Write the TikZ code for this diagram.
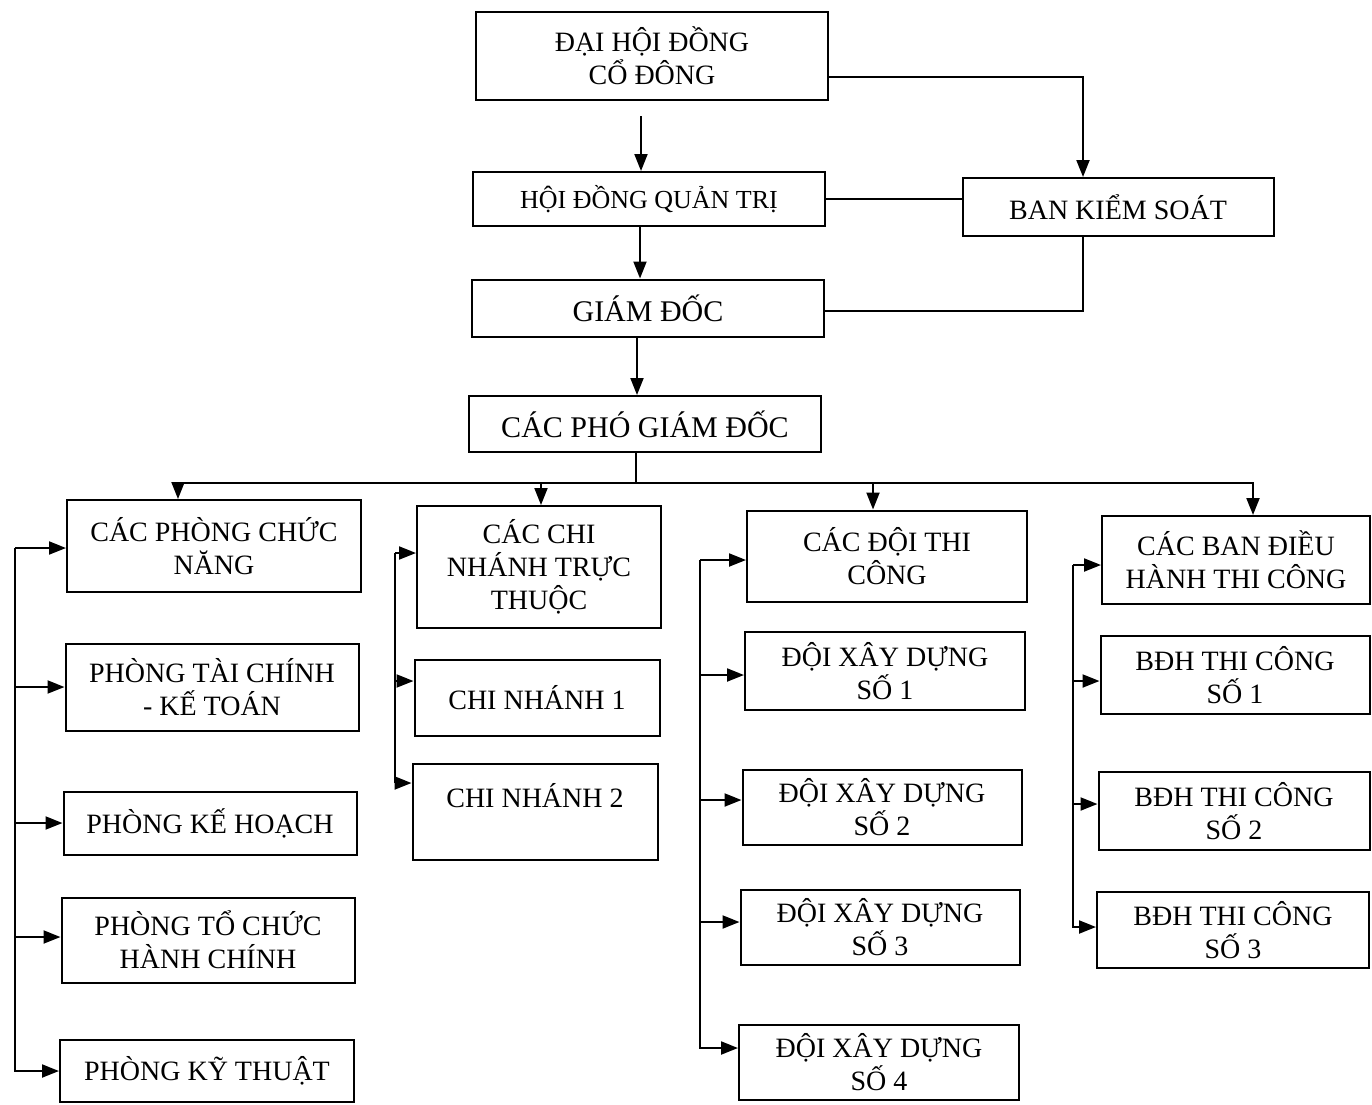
\documentclass[tikz,border=0pt]{standalone}
\usepackage{fontspec}
\setmainfont{Liberation Serif}
\usetikzlibrary{arrows.meta}

\tikzset{
    box/.style={draw, line width=2pt, align=center, inner sep=0pt,
                font=\fontsize{28}{33}\selectfont},
    arr/.style={-{Triangle[length=17pt,width=13pt]}, line width=2pt},
    link/.style={line width=2pt}
}

\begin{document}
\begin{tikzpicture}[x=1pt, y=-1pt]
        \useasboundingbox [fill=white] (0,0) rectangle (1372,1104);

        % top of the chart
        \node (dhdcd) [box, minimum width=352pt, minimum height=88pt] at (652,56) {ĐẠI HỘI ĐỒNG\\CỔ ĐÔNG};
        \node (hdqt) [box, minimum width=352pt, minimum height=54pt, font=\fontsize{26}{30}\selectfont] at (649,199) {HỘI ĐỒNG QUẢN TRỊ};
        \node (bks) [box, minimum width=311pt, minimum height=58pt] at (1118,207) {BAN KIỂM SOÁT};
        \node (gd) [box, minimum width=352pt, minimum height=57pt, font=\fontsize{30}{33}\selectfont] at (648,308) {GIÁM ĐỐC};
        \node (pgd) [box, minimum width=352pt, minimum height=56pt, font=\fontsize{30}{33}\selectfont] at (645,424) {CÁC PHÓ GIÁM ĐỐC};

        % second level
        \node (pcn) [box, minimum width=294pt, minimum height=92pt] at (214,546) {CÁC PHÒNG CHỨC\\NĂNG};
        \node (cn) [box, minimum width=244pt, minimum height=122pt] at (539,567) {CÁC CHI\\NHÁNH TRỰC\\THUỘC};
        \node (dtc) [box, minimum width=280pt, minimum height=91pt] at (887,556) {CÁC ĐỘI THI\\CÔNG};
        \node (bdh) [box, minimum width=268pt, minimum height=88pt] at (1236,560) {CÁC BAN ĐIỀU\\HÀNH THI CÔNG};

        % phong ban
        \node (tckt) [box, minimum width=293pt, minimum height=87pt] at (212,687) {PHÒNG TÀI CHÍNH\\- KẾ TOÁN};
        \node (kh) [box, minimum width=293pt, minimum height=63pt] at (210,823) {PHÒNG KẾ HOẠCH};
        \node (tchc) [box, minimum width=293pt, minimum height=85pt] at (208,940) {PHÒNG TỔ CHỨC\\HÀNH CHÍNH};
        \node (kt) [box, minimum width=294pt, minimum height=62pt] at (207,1071) {PHÒNG KỸ THUẬT};

        % chi nhanh
        \node (cn1) [box, minimum width=245pt, minimum height=76pt] at (537,698) {CHI NHÁNH 1};
        \node (cn2) [box, minimum width=245pt, minimum height=96pt] at (535,812) {CHI NHÁNH 2\\\mbox{}};

        % doi xay dung
        \node (dxd1) [box, minimum width=280pt, minimum height=78pt] at (885,671) {ĐỘI XÂY DỰNG\\SỐ 1};
        \node (dxd2) [box, minimum width=279pt, minimum height=75pt] at (882,807) {ĐỘI XÂY DỰNG\\SỐ 2};
        \node (dxd3) [box, minimum width=279pt, minimum height=75pt] at (880,927) {ĐỘI XÂY DỰNG\\SỐ 3};
        \node (dxd4) [box, minimum width=280pt, minimum height=75pt] at (879,1062) {ĐỘI XÂY DỰNG\\SỐ 4};

        % ban dieu hanh
        \node (bdh1) [box, minimum width=269pt, minimum height=78pt] at (1235,675) {BĐH THI CÔNG\\SỐ 1};
        \node (bdh2) [box, minimum width=271pt, minimum height=78pt] at (1234,811) {BĐH THI CÔNG\\SỐ 2};
        \node (bdh3) [box, minimum width=272pt, minimum height=76pt] at (1233,930) {BĐH THI CÔNG\\SỐ 3};

        \coordinate (a1) at ([xshift=-8pt]hdqt.north);
        \coordinate (a2) at ([xshift=-8pt]gd.north);
        \coordinate (a3) at ([xshift=-8pt]pgd.north);
        \coordinate (bus) at (636,483);
        \coordinate (pcnbar) at (15,548);
        \coordinate (cnbar) at (395,553);
        \coordinate (dbar) at (700,560);
        \coordinate (bbar) at (1073,565);

        \draw [arr, shorten <=15pt] (dhdcd.south -| a1) -- (a1);
        \draw [arr] (hdqt.south -| a2) -- (a2);
        \draw [arr] (gd.south -| a3) -- (a3);
        \draw [arr] ([yshift=-21pt]dhdcd.east) -| ([xshift=-35pt]bks.north);
        \draw [link] (hdqt.east) -- (hdqt.east -| bks.west);
        \draw [link] ([xshift=-35pt]bks.south) |- ([yshift=-3pt]gd.east);

        \draw [link] (pgd.south -| bus) -- (bus);
        \foreach \n/\d in {pcn/-36, cn/2, dtc/-14, bdh/17}
            \draw [arr] (bus) -| ([xshift=\d pt]\n.north);

        \foreach \n/\d in {pcn/-2, tckt/0, kh/0, tchc/3, kt/0}
            \draw [arr] (pcnbar) |- ([yshift=\d pt]\n.west);
        \foreach \n/\d in {cn/14, cn1/17, cn2/29}
            \draw [arr] (cnbar) |- ([yshift=\d pt]\n.west);
        \foreach \n/\d in {dtc/-4, dxd1/-4, dxd2/7, dxd3/5, dxd4/14}
            \draw [arr] (dbar) |- ([yshift=\d pt]\n.west);
        \foreach \n/\d in {bdh/-5, bdh1/-6, bdh2/7, bdh3/3}
            \draw [arr] (bbar) |- ([yshift=\d pt]\n.west);
    \end{tikzpicture}
\end{document}
